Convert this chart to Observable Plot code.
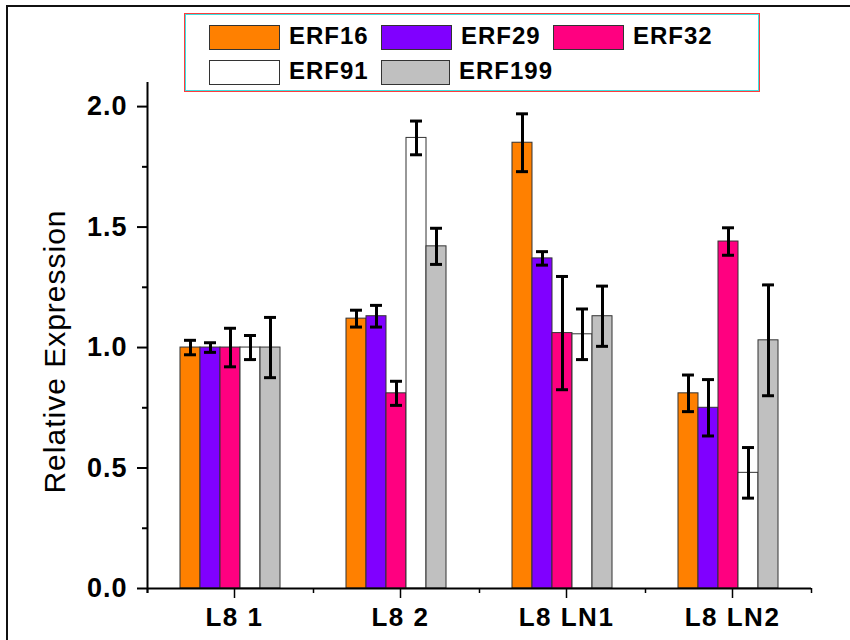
<!DOCTYPE html>
<html>
<head>
<meta charset="utf-8">
<script src="https://cdn.jsdelivr.net/npm/d3@7"></script>
<script src="https://cdn.jsdelivr.net/npm/@observablehq/plot@0.6"></script>
<style>
  html, body { margin: 0; padding: 0; background: #fff; overflow: hidden; }
  #wrap { position: relative; width: 850px; height: 640px; }
  #frame { position: absolute; left: 6px; top: 5px; width: 1000px; height: 1000px;
           border-left: 2px solid #111; border-top: 2px solid #111; pointer-events: none; }
  #chart { position: absolute; left: 0; top: 0; }
  #legend { position: absolute; left: 184px; top: 13px; width: 574px; height: 77px;
            border: 1px solid #ff3b3b; background: #fff; }
  #legend .inner { position: absolute; inset: 0; border: 1px solid #3ee0e0; }
  #legend .grid { position: absolute; left: 24px; top: 11px; display: grid;
                  grid-template-columns: repeat(3, 172px); row-gap: 10px; }
  #legend .item { display: flex; align-items: center; height: 25px; }
  #legend .sw { width: 69px; height: 23px; border: 1px solid #333; margin-right: 9px; box-sizing: content-box; }
  #legend .lab { font-family: "Liberation Sans", Arial, sans-serif; font-weight: bold;
                 font-size: 24px; letter-spacing: 1px; line-height: 25px; color: #000; margin-top: -4px; }
</style>
</head>
<body>
<div id="wrap">
  <div id="chart"></div>
  <div id="frame"></div>
  <div id="legend"><div class="inner"></div><div class="grid"></div></div>
</div>
<script>
// ---- data ----
const groups = ["L8 1", "L8 2", "L8 LN1", "L8 LN2"];
const series = ["ERF16", "ERF29", "ERF32", "ERF91", "ERF199"];
const colors = ["#FF8000", "#8000FF", "#FF0080", "#FFFFFF", "#C0C0C0"];

const erf16  = [1.00, 1.12, 1.85, 0.81];
const erf29  = [1.00, 1.13, 1.37, 0.75];
const erf32  = [1.00, 0.81, 1.06, 1.44];
const erf91  = [1.00, 1.87, 1.055, 0.48];
const erf199 = [1.00, 1.42, 1.13, 1.03];

const err16  = [0.03, 0.035, 0.12, 0.076];
const err29  = [0.02, 0.045, 0.028, 0.117];
const err32  = [0.08, 0.05, 0.235, 0.057];
const err91  = [0.05, 0.07, 0.105, 0.105];
const err199 = [0.125, 0.075, 0.125, 0.23];

const yTicks = [0, 0.5, 1.0, 1.5, 2.0];
const yMinorTicks = [0.25, 0.75, 1.25, 1.75];

// ---- table built from the arrays ----
const valueTable = [erf16, erf29, erf32, erf91, erf199];
const errorTable = [err16, err29, err32, err91, err199];
const BW = 0.1205;   // bar width as a fraction of one group slot
const CAP = 0.036;   // half cap width, same units

const rows = groups.flatMap((g, gi) => series.map((s, si) => {
  const x1 = gi + 0.5 + (si - series.length / 2) * BW;
  const v = valueTable[si][gi], e = errorTable[si][gi];
  return {group: g, series: s, value: v, lo: v - e, hi: v + e, x1, x2: x1 + BW, xc: x1 + BW / 2};
}));

const font = '"Liberation Sans", Arial, sans-serif';

const chart = Plot.plot({
  width: 850,
  height: 640,
  marginLeft: 147,
  marginRight: 39,
  marginTop: 82,
  marginBottom: 52,
  style: {fontFamily: font, fontWeight: "bold", color: "#000", background: "transparent", letterSpacing: "1px"},
  x: {type: "linear", domain: [0, groups.length], axis: null, label: null},
  y: {domain: [0, 2.1], axis: null, label: null},
  color: {domain: series, range: colors},
  marks: [
    Plot.rect(rows, {x1: "x1", x2: "x2", y1: 0, y2: "value", fill: "series", stroke: "#333", strokeWidth: 1}),
    Plot.ruleX(rows, {x: "xc", y1: "lo", y2: "hi", stroke: "#000", strokeWidth: 3}),
    Plot.ruleY(rows, {y: "hi", x1: d => d.xc - CAP, x2: d => d.xc + CAP, stroke: "#000", strokeWidth: 3}),
    Plot.ruleY(rows, {y: "lo", x1: d => d.xc - CAP, x2: d => d.xc + CAP, stroke: "#000", strokeWidth: 3}),
    Plot.ruleY([0], {stroke: "#000", strokeWidth: 2}),
    Plot.ruleX([0], {stroke: "#000", strokeWidth: 2, insetBottom: -5}),
    Plot.axisY({ticks: yTicks, tickFormat: d3.format(".1f"), tickSize: 10, tickPadding: 10,
                fontSize: 27, strokeWidth: 2, label: null}),
    Plot.axisY({ticks: yMinorTicks, tickFormat: () => "", tickSize: 5, strokeWidth: 2, label: null}),
    Plot.axisX({ticks: groups.map((g, i) => i + 0.5), tickFormat: d => groups[Math.floor(d)],
                tickSize: 10, tickPadding: 9, fontSize: 26, strokeWidth: 1.5, label: null, dx: 4}),
    Plot.axisX({ticks: d3.range(groups.length + 1), tickFormat: () => "", tickSize: 5, strokeWidth: 1.5, label: null}),
    Plot.text(["Relative Expression"], {frameAnchor: "left", textAnchor: "middle", rotate: -90, dx: -92, dy: 16,
                fontSize: 30, fontWeight: "normal", fill: "#000"})
  ]
});
d3.select(chart).selectAll('[aria-label="x-axis tick label"]').style("letter-spacing", "1.5px");
document.getElementById("chart").append(chart);

// ---- legend (HTML, from the same arrays) ----
const grid = document.querySelector("#legend .grid");
series.forEach((s, i) => {
  const item = document.createElement("div");
  item.className = "item";
  const sw = document.createElement("div");
  sw.className = "sw";
  sw.style.background = colors[i];
  const lab = document.createElement("span");
  lab.className = "lab";
  lab.textContent = s;
  item.append(sw, lab);
  grid.append(item);
});
</script>
</body>
</html>
